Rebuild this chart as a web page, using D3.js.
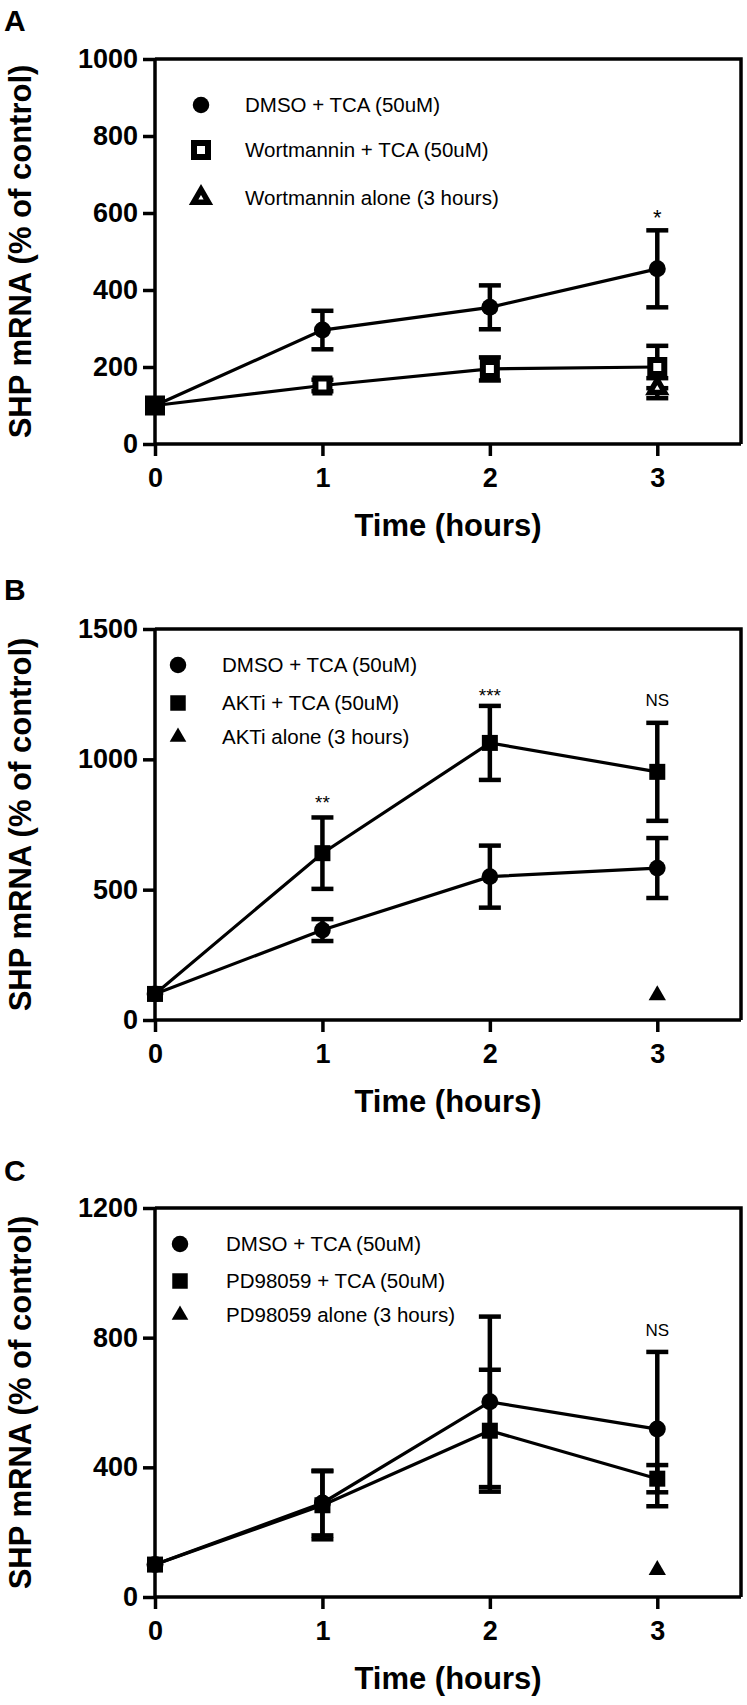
<!DOCTYPE html>
<html>
<head>
<meta charset="utf-8">
<script src="https://cdn.jsdelivr.net/npm/d3@7"></script>
<style>
  html, body { margin: 0; padding: 0; background: #ffffff; }
  svg { display: block; }
  text { font-family: "Liberation Sans", Arial, Helvetica, sans-serif; fill: #000; }
</style>
</head>
<body>
<svg id="chart" width="747" height="1705"></svg>
<script>
// ---------------- DATA ----------------
const hours = [0, 1, 2, 3];
const xTicks = [0, 1, 2, 3];
const xTitle = "Time (hours)";
const yTitle = "SHP mRNA (% of control)";

// Panel A
const aLegend = ["DMSO + TCA (50uM)", "Wortmannin + TCA (50uM)", "Wortmannin alone (3 hours)"];
const aYTicks = [0, 200, 400, 600, 800, 1000];
const aDmsoMean = [100, 296, 355, 455];
const aDmsoErr  = [0, 50, 57, 100];
const aWortMean = [100, 152, 195, 200];
const aWortErr  = [0, 15, 30, 55];
const aAloneHour = [3];
const aAloneMean = [145];
const aAloneErr  = [26];
const aNoteHours = [3];
const aNoteValues = [603];
const aNoteTexts = ["*"];

// Panel B
const bLegend = ["DMSO + TCA (50uM)", "AKTi + TCA (50uM)", "AKTi alone (3 hours)"];
const bYTicks = [0, 500, 1000, 1500];
const bDmsoMean = [100, 345, 550, 583];
const bDmsoErr  = [0, 42, 119, 115];
const bAktMean  = [100, 640, 1063, 952];
const bAktErr   = [0, 137, 142, 188];
const bAloneHour = [3];
const bAloneMean = [95];
const bAloneErr  = [0];
const bNoteHours = [1, 2, 3];
const bNoteValues = [853, 1263, 1227];
const bNoteTexts = ["**", "***", "NS"];

// Panel C
const cLegend = ["DMSO + TCA (50uM)", "PD98059 + TCA (50uM)", "PD98059 alone (3 hours)"];
const cYTicks = [0, 400, 800, 1200];
const cDmsoMean = [100, 290, 602, 518];
const cDmsoErr  = [0, 100, 263, 238];
const cPdMean   = [100, 283, 513, 365];
const cPdErr    = [0, 105, 188, 42];
const cAloneHour = [3];
const cAloneMean = [83];
const cAloneErr  = [0];
const cNoteHours = [3];
const cNoteValues = [824];
const cNoteTexts = ["NS"];

// ---------------- DRAWING ----------------
const svg = d3.select("#chart");
svg.append("rect").attr("width", 747).attr("height", 1705).attr("fill", "#fff");

const LEFT = 155, RIGHT = 741;
const fmt = d3.format("d");

function zip(xs, ms, es) { return xs.map((x, i) => ({x, m: ms[i], e: es[i]})); }

function markerPath(shape, size) {
  const t = shape === "circle" ? d3.symbolCircle : shape === "square" ? d3.symbolSquare : d3.symbolTriangle;
  return d3.symbol().type(t).size(size)();
}

function styleMarker(p, s) {
  if (s.hollow) p.attr("fill", "#fff").attr("stroke", "#000").attr("stroke-width", s.sw).attr("stroke-linejoin", "miter");
  else p.attr("fill", "#000");
}

function drawPanel(cfg) {
  const g = svg.append("g");
  const x = d3.scaleLinear().domain([0, 3.5]).range([LEFT, RIGHT]);
  const y = d3.scaleLinear().domain([0, cfg.yMax]).range([cfg.bottom, cfg.top]);

  g.append("text").attr("x", 4).attr("y", cfg.letterY)
    .attr("font-size", 30).attr("font-weight", "bold").text(cfg.letter);

  g.append("path")
    .attr("d", `M${LEFT},${cfg.top}H${RIGHT}V${cfg.bottom}`)
    .attr("fill", "none").attr("stroke", "#000").attr("stroke-width", 3.5);

  const ya = g.append("g").attr("transform", `translate(${LEFT},0)`)
    .call(d3.axisLeft(y).tickValues(cfg.yTicks).tickFormat(fmt).tickSize(12).tickPadding(5).tickSizeOuter(0));
  const xa = g.append("g").attr("transform", `translate(0,${cfg.bottom})`)
    .call(d3.axisBottom(x).tickValues(xTicks).tickFormat(fmt).tickSize(12).tickPadding(12).tickSizeOuter(0));
  [ya, xa].forEach(a => {
    a.select(".domain").attr("stroke", "#000").attr("stroke-width", 3.5);
    a.selectAll(".tick line").attr("stroke", "#000").attr("stroke-width", 3.5);
    a.selectAll(".tick text").attr("font-size", 27).attr("font-weight", "bold")
      .attr("font-family", '"Liberation Sans", Arial, sans-serif').attr("fill", "#000");
  });
  xa.select(".domain").attr("d", `M${LEFT},0H${RIGHT}`);
  ya.select(".domain").attr("d", `M0,${cfg.top}V${cfg.bottom}`);

  g.append("text").attr("x", (LEFT + RIGHT) / 2).attr("y", cfg.bottom + 92)
    .attr("text-anchor", "middle").attr("font-size", 31).attr("font-weight", "bold").text(xTitle);
  g.append("text")
    .attr("transform", `translate(31,${(cfg.top + cfg.bottom) / 2}) rotate(-90)`)
    .attr("text-anchor", "middle").attr("font-size", 31).attr("font-weight", "bold").text(yTitle);

  const plot = g.append("g");
  cfg.series.forEach(s => {
    if (s.pts.length > 1) {
      plot.append("path").datum(s.pts)
        .attr("d", d3.line().x(d => x(d.x)).y(d => y(d.m)))
        .attr("fill", "none").attr("stroke", "#000").attr("stroke-width", 3.2);
    }
  });
  cfg.series.forEach(s => {
    s.pts.filter(d => d.e > 0).forEach(d => {
      const cx = x(d.x);
      plot.append("line").attr("x1", cx).attr("x2", cx)
        .attr("y1", y(d.m - d.e)).attr("y2", y(d.m + d.e))
        .attr("stroke", "#000").attr("stroke-width", 4.5);
      [d.m - d.e, d.m + d.e].forEach(v => {
        plot.append("line").attr("x1", cx - 11).attr("x2", cx + 11)
          .attr("y1", y(v)).attr("y2", y(v))
          .attr("stroke", "#000").attr("stroke-width", 4.5);
      });
    });
  });
  // markers: later series first, so filled markers sit on top at shared points
  cfg.series.slice().reverse().forEach(s => {
    s.pts.forEach(d => {
      const p = plot.append("path")
        .attr("d", markerPath(s.shape, s.size))
        .attr("transform", `translate(${x(d.x)},${y(d.m)})`);
      styleMarker(p, s);
    });
  });
  cfg.notes.forEach(n => {
    const isStar = n.text.indexOf("*") >= 0;
    const fs = isStar ? (n.text.length === 1 ? 22 : 19) : 17;
    g.append("text").attr("x", x(n.h)).attr("y", y(n.v) + (isStar ? fs * 0.58 : fs * 0.36))
      .attr("text-anchor", "middle").attr("font-size", fs).text(n.text);
  });
  cfg.legend.labels.forEach((lab, i) => {
    const s = cfg.series[i];
    const ly = cfg.top + cfg.legend.rows[i];
    const p = g.append("path").attr("d", markerPath(s.shape, cfg.legend.sizes[i]))
      .attr("transform", `translate(${cfg.legend.x},${ly})`);
    styleMarker(p, s);
    g.append("text").attr("x", cfg.legend.textX).attr("y", ly).attr("dy", "0.36em")
      .attr("font-size", 20.5).text(lab);
  });
}

function notes(hs, vs, ts) { return hs.map((h, i) => ({h, v: vs[i], text: ts[i]})); }

drawPanel({
  letter: "A", letterY: 31, top: 59, bottom: 444, yMax: 1000, yTicks: aYTicks,
  series: [
    {pts: zip(hours, aDmsoMean, aDmsoErr), shape: "circle", size: 227},
    {pts: zip(hours, aWortMean, aWortErr), shape: "square", size: 196, hollow: true, sw: 6},
    {pts: zip(aAloneHour, aAloneMean, aAloneErr), shape: "triangle", size: 95, hollow: true, sw: 5.5}
  ],
  legend: {x: 201, textX: 245, rows: [46, 91, 139], labels: aLegend, sizes: [214, 196, 95]},
  notes: notes(aNoteHours, aNoteValues, aNoteTexts)
});

drawPanel({
  letter: "B", letterY: 600, top: 629, bottom: 1020, yMax: 1500, yTicks: bYTicks,
  series: [
    {pts: zip(hours, bDmsoMean, bDmsoErr), shape: "circle", size: 219},
    {pts: zip(hours, bAktMean, bAktErr), shape: "square", size: 256},
    {pts: zip(bAloneHour, bAloneMean, bAloneErr), shape: "triangle", size: 130}
  ],
  legend: {x: 178, textX: 222, rows: [36, 74, 108], labels: bLegend, sizes: [214, 240, 120]},
  notes: notes(bNoteHours, bNoteValues, bNoteTexts)
});

drawPanel({
  letter: "C", letterY: 1181, top: 1208, bottom: 1597, yMax: 1200, yTicks: cYTicks,
  series: [
    {pts: zip(hours, cDmsoMean, cDmsoErr), shape: "circle", size: 227},
    {pts: zip(hours, cPdMean, cPdErr), shape: "square", size: 256},
    {pts: zip(cAloneHour, cAloneMean, cAloneErr), shape: "triangle", size: 130}
  ],
  legend: {x: 180, textX: 226, rows: [36, 73, 107], labels: cLegend, sizes: [214, 240, 120]},
  notes: notes(cNoteHours, cNoteValues, cNoteTexts)
});
</script>
</body>
</html>
